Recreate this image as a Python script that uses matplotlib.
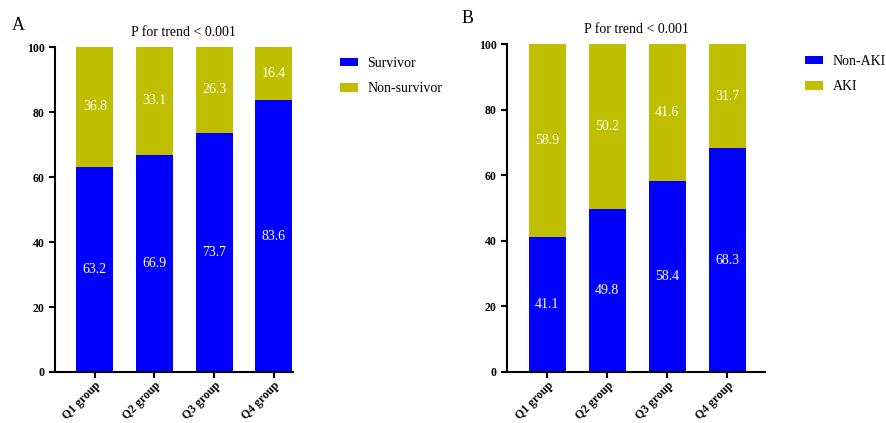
import matplotlib.pyplot as plt

plt.rcParams['font.family'] = ['Liberation Serif', 'DejaVu Serif']

groups = ['Q1 group', 'Q2 group', 'Q3 group', 'Q4 group']
survivor = [63.2, 66.9, 73.7, 83.6]
non_survivor = [36.8, 33.1, 26.3, 16.4]
non_aki = [41.1, 49.8, 58.4, 68.3]
aki = [58.9, 50.2, 41.6, 31.7]

blue = '#0000FF'
olive = '#BFBF00'

fig = plt.figure(figsize=(8.87, 4.23), dpi=100)
ax_a = fig.add_axes([0.062, 0.1206, 0.268, 0.768])
ax_b = fig.add_axes([0.5716, 0.1206, 0.2909, 0.775])


def draw(ax, low, high, labels, legend_xy, title_x):
    x = range(len(groups))
    ax.bar(x, low, width=0.62, color=blue, label=labels[0])
    ax.bar(x, high, width=0.62, bottom=low, color=olive, label=labels[1])
    for i in x:
        ax.text(i, low[i] / 2, f'{low[i]:.1f}', color='white', ha='center',
                va='center', fontsize=10)
        ax.text(i, low[i] + high[i] / 2, f'{high[i]:.1f}', color='white',
                ha='center', va='center', fontsize=10)
    ax.set_ylim(0, 100)
    ax.set_yticks(range(0, 101, 20))
    ax.set_xticks(list(x))
    ax.set_xticklabels(groups, rotation=45, ha='right', rotation_mode='anchor',
                       fontweight='bold', fontsize=8.5)
    for lab in ax.get_yticklabels():
        lab.set_fontweight('bold')
        lab.set_fontsize(8.5)
    for s in ('top', 'right'):
        ax.spines[s].set_visible(False)
    for s in ('left', 'bottom'):
        ax.spines[s].set_linewidth(1.5)
    ax.tick_params(width=1.5, length=4)
    ax.tick_params(axis='x', pad=1.5)
    ax.set_title('P for trend < 0.001', fontsize=10, x=title_x, pad=8)
    ax.legend(loc='upper left', bbox_to_anchor=legend_xy, frameon=False,
              fontsize=10, handlelength=1.3, handleheight=0.55,
              handletextpad=0.7, labelspacing=0.9,
              bbox_transform=fig.transFigure)


draw(ax_a, survivor, non_survivor, ['Survivor', 'Non-survivor'], (0.369, 0.895), 0.54)
ax_a.set_xlim(-0.67, 3.32)
draw(ax_b, non_aki, aki, ['Non-AKI', 'AKI'], (0.893, 0.9), 0.5)
ax_b.set_xlim(-0.67, 3.63)

fig.text(0.013, 0.93, 'A', fontsize=13)
fig.text(0.52, 0.945, 'B', fontsize=13)

fig.savefig('out.png', dpi=100)
